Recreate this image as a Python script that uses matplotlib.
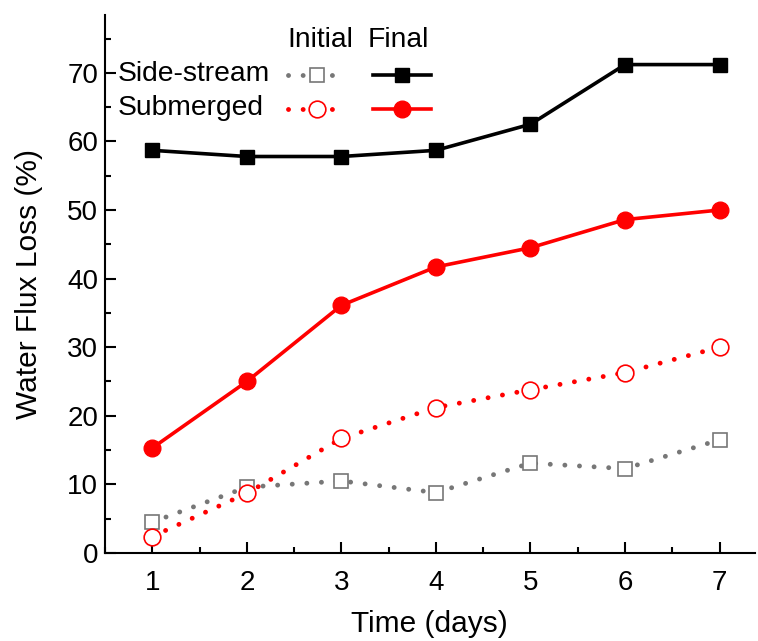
import numpy as np
import matplotlib
matplotlib.use('Agg')
import matplotlib.pyplot as plt
from matplotlib.ticker import MultipleLocator

days = [1, 2, 3, 4, 5, 6, 7]
side_initial = [4.5, 9.6, 10.5, 8.8, 13.1, 12.3, 16.5]
side_final = [58.7, 57.8, 57.8, 58.7, 62.5, 71.2, 71.2]
sub_initial = [2.4, 8.7, 16.7, 21.2, 23.8, 26.3, 30.0]
sub_final = [15.3, 25.0, 36.1, 41.7, 44.5, 48.6, 50.0]

plt.rcParams['font.family'] = ['Liberation Sans', 'DejaVu Sans']

fig = plt.figure(figsize=(7.58, 6.41), dpi=100)
ax = fig.add_axes([0.1385, 0.1373, 0.857, 0.839])

dot = (0, (0.01, 3.0))
si, = ax.plot(days, side_initial, color='#777777', linestyle=dot, linewidth=3.5,
              dash_capstyle='round', marker='s', markersize=10.5,
              markerfacecolor='white', markeredgecolor='#777777', markeredgewidth=1.2)
ui, = ax.plot(days, sub_initial, color='red', linestyle=dot, linewidth=3.5,
              dash_capstyle='round', marker='o', markersize=12,
              markerfacecolor='white', markeredgecolor='red', markeredgewidth=1.2)
sf, = ax.plot(days, side_final, color='black', linewidth=2.6,
              marker='s', markersize=10.5)
uf, = ax.plot(days, sub_final, color='red', linewidth=2.6,
              marker='o', markersize=12)

ax.set_xlim(0.5, 7.37)
ax.set_ylim(0, 78.4)
ax.xaxis.set_major_locator(MultipleLocator(1))
ax.xaxis.set_minor_locator(MultipleLocator(0.5))
ax.yaxis.set_major_locator(MultipleLocator(10))
ax.yaxis.set_minor_locator(MultipleLocator(5))
ax.tick_params(which='both', direction='in', width=1.5, labelsize=20)
ax.tick_params(axis='x', pad=12)
ax.tick_params(axis='y', pad=5)
ax.tick_params(which='major', length=8)
ax.tick_params(which='minor', length=4.5)
for s in ['top', 'right']:
    ax.spines[s].set_visible(False)
for s in ['left', 'bottom']:
    ax.spines[s].set_linewidth(1.5)

ax.set_xlabel('Time (days)', fontsize=21.5, labelpad=10)
ax.set_ylabel('Water Flux Loss (%)', fontsize=21.5, labelpad=17)

leg = ax.legend([si, ui, sf, uf], ['', '', '', ''], ncol=2, frameon=False,
                loc='center', bbox_to_anchor=(0.392, 0.852), borderpad=0,
                handlelength=2.1, handletextpad=0, columnspacing=0.95,
                labelspacing=0.3, fontsize=20)

ax.text(0.02, 0.890, 'Side-stream', transform=ax.transAxes, fontsize=20.3, va='center')
ax.text(0.02, 0.827, 'Submerged', transform=ax.transAxes, fontsize=20.3, va='center')
ax.text(0.331, 0.953, 'Initial', transform=ax.transAxes, fontsize=20.3, va='center', ha='center')
ax.text(0.451, 0.953, 'Final', transform=ax.transAxes, fontsize=20.3, va='center', ha='center')

fig.savefig('out.png', dpi=100)
